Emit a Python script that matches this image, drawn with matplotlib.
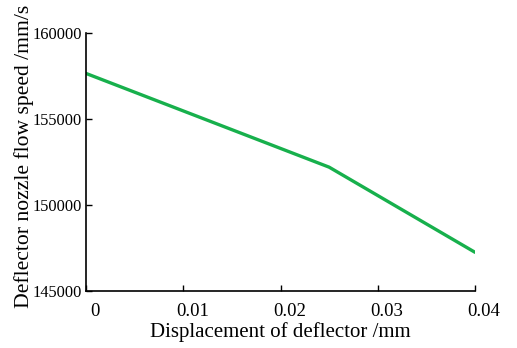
import matplotlib
matplotlib.use("Agg")
import matplotlib.pyplot as plt
import matplotlib.transforms as mtransforms

displacement = [0.0, 0.025, 0.04]
speed = [157650, 152200, 147250]
xticks = [0, 0.01, 0.02, 0.03, 0.04]
xticklabels = ["0", "0.01", "0.02", "0.03", "0.04"]
yticks = [145000, 150000, 155000, 160000]
yticklabels = ["145000", "150000", "155000", "160000"]

plt.rcParams['font.family'] = ['Liberation Serif', 'DejaVu Serif']

fig = plt.figure(figsize=(5.17, 3.48), dpi=100)
ax = fig.add_axes([86/517, 1-291/348, (475-86)/517, (291-33)/348])
ax.plot(displacement, speed, color='#17b04c', lw=2.4, solid_capstyle='round')
ax.set_xlim(0, 0.04)
ax.set_ylim(145000, 160000)
ax.set_xticks(xticks)
ax.set_xticklabels(xticklabels)
ax.set_yticks(yticks)
ax.set_yticklabels(yticklabels)
ax.spines['top'].set_visible(False)
ax.spines['right'].set_visible(False)
for s in ['left', 'bottom']:
    ax.spines[s].set_linewidth(1.2)
ax.tick_params(direction='in', length=4, width=1.0)
ax.tick_params(axis='x', labelsize=13.5, pad=8.5)
ax.tick_params(axis='y', labelsize=11.8, pad=3)
offset = mtransforms.ScaledTranslation(9/100, 0, fig.dpi_scale_trans)
for lbl in ax.get_xticklabels():
    lbl.set_transform(lbl.get_transform() + offset)
ax.set_xlabel('Displacement of deflector /mm', fontsize=15)
ax.set_ylabel('Deflector nozzle flow speed /mm/s', fontsize=15.6)
ax.xaxis.set_label_coords(0.5, -0.12)
ax.yaxis.set_label_coords(-0.134, 0.523)
fig.savefig('out.png', dpi=100)
